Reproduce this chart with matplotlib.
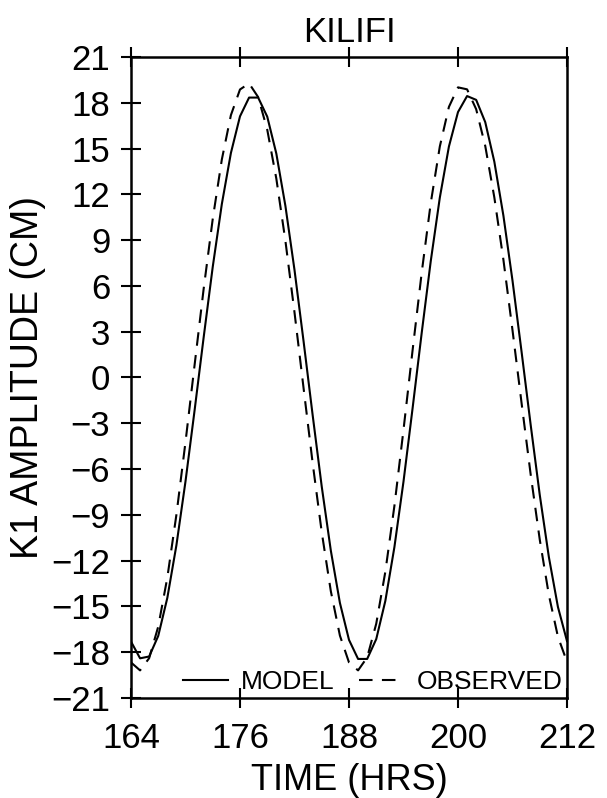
import matplotlib
matplotlib.use("Agg")
import matplotlib.pyplot as plt

# hourly K1 amplitude (cm)
hours = list(range(164, 213))
model = [
    -17.3, -18.4, -18.28, -16.93, -14.44, -10.99, -6.81, -2.16, 2.63, 7.25,
    11.36, 14.71, 17.11, 18.34, 18.34, 17.09, 14.67, 11.24, 7.05, 2.37,
    -2.47, -7.15, -11.34, -14.77, -17.19, -18.44, -18.44, -17.14, -14.64, -11.11,
    -6.82, -2.02, 2.90, 7.62, 11.79, 15.13, 17.39, 18.44, 18.19, 16.73,
    14.14, 10.60, 6.35, 1.68, -3.10, -7.69, -11.75, -15.03, -17.27,
]
observed = [
    -18.67, -19.19, -18.39, -16.32, -13.11, -8.99, -4.23, 0.81, 5.81, 10.39,
    14.28, 17.19, 18.87, 19.27, 18.37, 16.24, 13.03, 8.95, 4.27, -0.70,
    -5.61, -10.14, -14.00, -16.91, -18.67, -19.19, -18.34, -16.13, -12.73, -8.41,
    -3.43, 1.78, 6.85, 11.43, 15.14, 17.73, 19.01, 18.88, 17.58, 15.17,
    11.80, 7.71, 3.10, -1.68, -6.35, -10.62, -14.24, -16.98, -18.63,
]
x_ticks = [164, 176, 188, 200, 212]
y_ticks = list(range(-21, 22, 3))

plt.rcParams["font.family"] = ["Liberation Sans", "DejaVu Sans"]

fig = plt.figure(figsize=(6.07, 7.98), dpi=100)
ax = fig.add_axes([0.2158, 0.1253, 0.7183, 0.8033])

ax.plot(hours, model, color="black", lw=1.5, label="MODEL")
ax.plot(hours, observed, color="black", lw=1.5, linestyle=(0, (6.5, 4.5)),
        label="OBSERVED")

ax.set_xlim(164, 212)
ax.set_ylim(-21, 21)
ax.set_xticks(x_ticks)
ax.set_yticks(y_ticks)
ax.tick_params(axis="both", direction="inout", length=14, width=1.5,
               labelsize=25, top=True, right=False)
ax.tick_params(axis="x", pad=10)
ax.tick_params(axis="y", pad=8)
for sp in ax.spines.values():
    sp.set_linewidth(1.8)

ax.set_title("KILIFI", fontsize=25, pad=11)
ax.set_xlabel("TIME (HRS)", fontsize=26, labelpad=6)
ax.set_ylabel("K1 AMPLITUDE (CM)", fontsize=27, labelpad=4)

ax.legend(loc="center", bbox_to_anchor=(0.555, 0.025), ncol=2, frameon=False,
          fontsize=19, handlelength=1.7, handletextpad=0.5,
          columnspacing=0.9, borderpad=0)

fig.savefig("out.png", dpi=100)
